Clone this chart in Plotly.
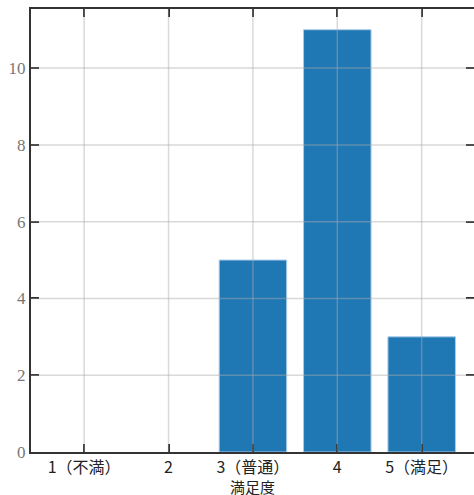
import plotly.graph_objects as go

categories = ["1（不満）", "2", "3（普通）", "4", "5（満足）"]
counts = [0, 0, 5, 11, 3]
y_ticks = [0, 2, 4, 6, 8, 10]
x_title = "満足度"

fig = go.Figure()
fig.add_trace(go.Bar(
    x=list(range(len(categories))), y=counts, width=0.8,
    marker=dict(color="#1f77b4",
                line=dict(color="#a9cbe8", width=[0 if c == 0 else 1 for c in counts])),
))

# gridlines drawn above bars
grid = dict(color="rgba(170,170,170,0.45)", width=1.5)
for i in range(len(categories)):
    fig.add_shape(type="line", xref="x", yref="paper", x0=i, x1=i, y0=0, y1=1,
                  line=grid, layer="above")
for v in y_ticks[1:]:
    fig.add_shape(type="line", xref="paper", yref="y", x0=0, x1=1, y0=v, y1=v,
                  line=grid, layer="above")

# x-axis title as annotation placed just below the tick labels
fig.add_annotation(text=x_title, xref="paper", yref="paper", x=0.5, y=-0.077,
                   xanchor="center", yanchor="middle", showarrow=False,
                   font=dict(family="Noto Sans CJK JP", size=15, color="#222"))

fig.update_layout(
    width=474, height=495,
    margin=dict(l=31, r=0, t=9, b=43),
    paper_bgcolor="white", plot_bgcolor="white",
    showlegend=False,
    bargap=0.2,
)
fig.update_xaxes(
    range=[-0.63, 4.62], tickmode="array",
    tickvals=list(range(len(categories))), ticktext=categories,
    ticks="inside", ticklen=8, tickwidth=2, tickcolor="#222",
    showline=True, linecolor="#333", linewidth=2, mirror="ticks",
    showgrid=False, zeroline=False, automargin=False,
    tickfont=dict(family="Noto Sans CJK JP", size=16, color="#222"),
)
fig.update_yaxes(
    range=[0, 11.54], tickmode="array", tickvals=y_ticks,
    ticks="inside", ticklen=8, tickwidth=2, tickcolor="#222",
    showline=True, linecolor="#333", linewidth=2, mirror="ticks",
    showgrid=False, zeroline=False, automargin=False,
    tickfont=dict(family="Liberation Serif", size=17, color="#777"),
)
fig.write_html("out.html", config={"displayModeBar": False},
               post_script="document.body.style.margin='0';")
